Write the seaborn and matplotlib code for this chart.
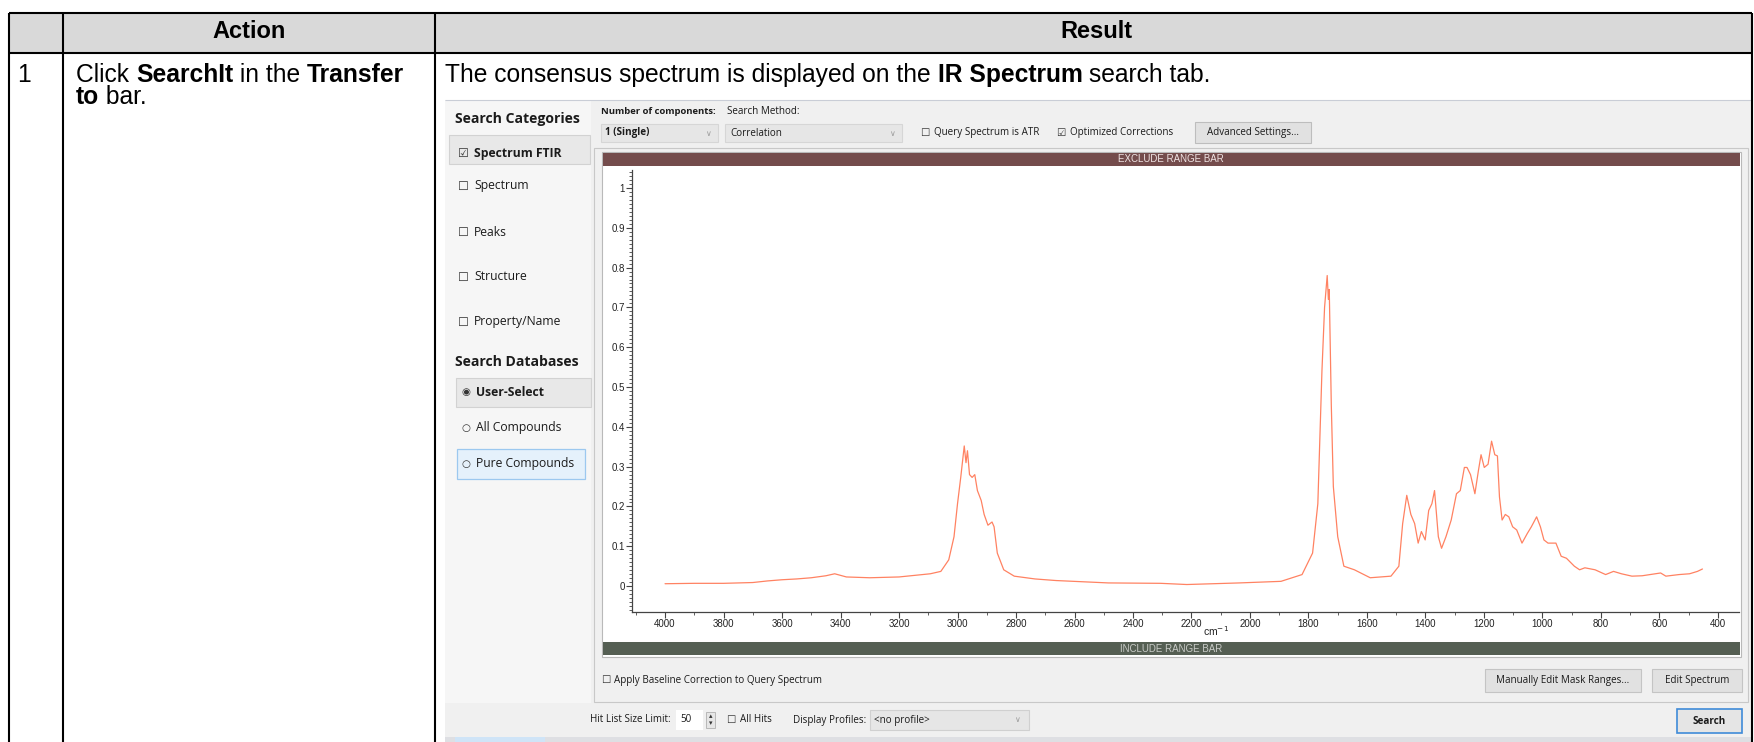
import numpy as np
import pandas as pd
import matplotlib
matplotlib.use("Agg")
import matplotlib.pyplot as plt
import seaborn as sns
from matplotlib.patches import Rectangle
from matplotlib.ticker import MultipleLocator

# ---------------- data ----------------
wavenumber = [4000, 3900, 3800, 3700, 3650, 3600, 3550, 3500, 3450, 3420, 3380, 3300, 3200,
              3093, 3057, 3030, 3012, 3000, 2989, 2977, 2971, 2966, 2959, 2950, 2941, 2932,
              2919, 2909, 2896, 2882, 2875, 2864, 2842, 2806, 2735, 2663, 2484, 2305, 2216,
              2037, 1894, 1822, 1786, 1768, 1754, 1745, 1736, 1732, 1729, 1722, 1715, 1700,
              1679, 1643, 1589, 1518, 1491, 1478, 1464, 1450, 1437, 1425, 1414, 1401, 1389,
              1378, 1369, 1356, 1345, 1330, 1312, 1294, 1281, 1267, 1258, 1246, 1231, 1219,
              1210, 1199, 1186, 1174, 1163, 1154, 1147, 1138, 1127, 1115, 1102, 1088, 1070,
              1052, 1038, 1020, 1007, 995, 981, 954, 936, 918, 891, 873, 855, 820, 784, 757,
              730, 694, 659, 596, 578, 533, 497, 470, 453]
absorbance = [0.006, 0.007, 0.007, 0.009, 0.013, 0.016, 0.018, 0.021, 0.026, 0.031, 0.023, 0.021, 0.023,
              0.031, 0.037, 0.066, 0.124, 0.207, 0.273, 0.352, 0.310, 0.340, 0.280, 0.273, 0.280, 0.240,
              0.215, 0.180, 0.153, 0.161, 0.149, 0.083, 0.041, 0.025, 0.018, 0.014, 0.008, 0.007, 0.004,
              0.008, 0.012, 0.029, 0.083, 0.207, 0.540, 0.700, 0.780, 0.720, 0.745, 0.455, 0.250, 0.124,
              0.050, 0.041, 0.021, 0.025, 0.050, 0.157, 0.228, 0.180, 0.157, 0.108, 0.137, 0.116, 0.190,
              0.207, 0.240, 0.124, 0.095, 0.124, 0.166, 0.232, 0.240, 0.298, 0.298, 0.280, 0.232, 0.290,
              0.330, 0.298, 0.306, 0.364, 0.330, 0.327, 0.224, 0.166, 0.180, 0.174, 0.149, 0.141, 0.108,
              0.132, 0.149, 0.174, 0.149, 0.116, 0.108, 0.108, 0.075, 0.070, 0.050, 0.041, 0.046, 0.041, 0.029, 0.037,
              0.031, 0.025, 0.026, 0.033, 0.025, 0.029, 0.031, 0.037, 0.043]

x_ticks = [4000, 3800, 3600, 3400, 3200, 3000, 2800, 2600, 2400, 2200, 2000,
           1800, 1600, 1400, 1200, 1000, 800, 600, 400]
x_tick_labels = ["4000", "3800", "3600", "3400", "3200", "3000", "2800", "2600", "2400", "2200", "2000",
                 "1800", "1600", "1400", "1200", "1000", "800", "600", "400"]
y_ticks = [0, 0.1, 0.2, 0.3, 0.4, 0.5, 0.6, 0.7, 0.8, 0.9, 1.0]
y_tick_labels = ["0", "0.1", "0.2", "0.3", "0.4", "0.5", "0.6", "0.7", "0.8", "0.9", "1"]

category_items = ["Spectrum FTIR", "Spectrum", "Peaks", "Structure", "Property/Name"]
database_items = ["User-Select", "All Compounds", "Pure Compounds"]

# ---------------- setup ----------------
sns.set_style("white")
DOC = ["Liberation Sans", "DejaVu Sans"]
UI = ["Open Sans", "DejaVu Sans"]
plt.rcParams["font.family"] = DOC

W, H = 1754, 742
fig = plt.figure(figsize=(W / 100, H / 100), dpi=100)
fig.patch.set_facecolor("white")
bg = fig.add_axes([0, 0, 1, 1])
bg.set_xlim(0, W)
bg.set_ylim(H, 0)
bg.axis("off")
renderer = fig.canvas.get_renderer()


def rect(x0, y0, x1, y1, fc, ec="none", lw=0.0, z=1):
    bg.add_patch(Rectangle((x0, y0), x1 - x0, y1 - y0, facecolor=fc, edgecolor=ec,
                           linewidth=lw, zorder=z))


def line(xs, ys, color="black", lw=1.0, z=3):
    bg.plot(xs, ys, color=color, linewidth=lw, zorder=z, solid_capstyle="butt")


def tw(s, size, weight, family):
    t = bg.text(0, 0, s + "|", fontsize=size, fontweight=weight, family=family)
    t2 = bg.text(0, 0, "|", fontsize=size, fontweight=weight, family=family)
    w = t.get_window_extent(renderer).width - t2.get_window_extent(renderer).width
    t.remove()
    t2.remove()
    return w


def fit(segs, target, family, ref=10.0):
    total = sum(tw(s, ref, w, family) for s, w in segs)
    return ref * target / total


def rich(x, y, segs, size, family, color="black", z=6):
    for s, wt in segs:
        bg.text(x, y, s, fontsize=size, fontweight=wt, family=family, color=color,
                va="center", ha="left", zorder=z)
        x += tw(s, size, wt, family)
    return x


def txt(x, y, s, size, family=UI, weight="normal", color="#1b1b1b", ha="left", z=6):
    bg.text(x, y, s, fontsize=size, fontweight=weight, family=family, color=color,
            va="center", ha=ha, zorder=z)


# ---------------- document table ----------------
rect(9, 13, 1752, 53, "#d9d9d9", z=0)
border = dict(color="black", lw=1.5, z=8)
line([9, 1752], [13, 13], **border)
line([9, 1752], [53, 53], **border)
for xv in [9, 63, 435, 1752]:
    line([xv, xv], [13, H], **border)

hdr_size = fit([("Action", "bold")], 73, DOC)
txt(249, 32, "Action", hdr_size, family=DOC, weight="bold", color="black", ha="center")
txt(1096, 32, "Result", hdr_size, family=DOC, weight="bold", color="black", ha="center")

result_segs = [("The consensus spectrum is displayed on the ", "normal"), ("IR Spectrum", "bold"),
               (" search tab.", "normal")]
doc_size = fit(result_segs, 768, DOC)
rich(445, 75, result_segs, doc_size, DOC)
txt(17, 75, "1", doc_size, family=DOC, color="black")
rich(76, 75, [("Click ", "normal"), ("SearchIt", "bold"), (" in the ", "normal"), ("Transfer", "bold")],
     doc_size, DOC)
rich(76, 97, [("to", "bold"), (" bar.", "normal")], doc_size, DOC)

# ---------------- software screenshot ----------------
UI_L, UI_R, UI_T = 445, 1751, 100
rect(UI_L, UI_T, UI_R, H, "#f0f0f0", z=1)
line([UI_L, UI_R], [UI_T, UI_T], color="#c9cdd6", lw=0.8, z=2)
rect(UI_L, UI_T + 1, 591, 703, "#f6f6f6", z=1.5)
rect(UI_L, 737, UI_R, H, "#dedfe3", z=2)
rect(455, 737, 545, H, "#cfe4f7", z=2.1)

s_left = fit([("Property/Name", "normal")], 87, UI)
s_left_b = fit([("Search Categories", "bold")], 125, UI)
s_small = fit([("Query Spectrum is ATR", "normal")], 106, UI)
s_small_b = fit([("Number of components:", "bold")], 115, UI)

# left panel
txt(455, 119, "Search Categories", s_left_b, weight="bold")
rect(449, 135, 590, 164, "#e8e8e8", ec="#d2d2d2", lw=0.8, z=2)
item_y = [153, 186, 232, 277, 322]
for i, (name, yy) in enumerate(zip(category_items, item_y)):
    box = "\u2611" if i == 0 else "\u2610"
    txt(458, yy, box, s_left * 1.0, color="#333333")
    txt(474, yy, name, s_left, weight="bold" if i == 0 else "normal")

txt(455, 362, "Search Databases", s_left_b, weight="bold")
rect(456, 378, 591, 407, "#e8e8e8", ec="#d2d2d2", lw=0.8, z=2)
rect(457, 449, 585, 479, "#e5f1fb", ec="#9cc8ef", lw=0.9, z=2)
db_y = [393, 428, 464]
for i, (name, yy) in enumerate(zip(database_items, db_y)):
    mark = "\u25c9" if i == 0 else "\u25cb"
    txt(461, yy, mark, s_left * 0.85, color="#333333")
    txt(476, yy, name, s_left, weight="bold" if i == 0 else "normal")

# top toolbar
txt(601, 111, "Number of components:", s_small_b, weight="bold")
txt(727, 111, "Search Method:", s_small)
rect(601, 124, 718, 142, "#e6e6e6", ec="#d6d6d6", lw=0.8, z=2)
txt(605, 133, "1 (Single)", s_small, weight="bold")
txt(709, 133, "\u2228", s_small * 0.8, family=["DejaVu Sans"], color="#9a9a9a", ha="center")
rect(725, 124, 902, 142, "#e6e6e6", ec="#d6d6d6", lw=0.8, z=2)
txt(730, 133, "Correlation", s_small)
txt(893, 133, "\u2228", s_small * 0.8, family=["DejaVu Sans"], color="#9a9a9a", ha="center")
txt(920, 133, "\u2610", s_small * 1.05, color="#333333")
txt(934, 133, "Query Spectrum is ATR", s_small)
txt(1056, 133, "\u2611", s_small * 1.05, color="#333333")
txt(1070, 133, "Optimized Corrections", s_small)
rect(1195, 122, 1311, 143, "#e1e1e1", ec="#bdbdbd", lw=0.8, z=2)
txt(1253, 132.5, "Advanced Settings...", s_small, ha="center")

# plot panel frame
rect(594, 148, 1748, 702, "#f0f0f0", ec="#c8c8c8", lw=0.8, z=2)
rect(602, 152, 1741, 657, "white", ec="#b9b9b9", lw=0.8, z=2.2)
rect(603, 153, 1740, 166, "#744c4c", z=2.5)
txt(1171, 159.5, "EXCLUDE RANGE BAR", 7.0, family=DOC, color="#efe3e3", ha="center")
rect(603, 642, 1740, 655, "#555f53", z=2.5)
txt(1171, 648.5, "INCLUDE RANGE BAR", 7.0, family=DOC, color="#c9ccc8", ha="center")

# below plot
txt(601, 680, "\u2610", s_small * 1.05, color="#333333")
txt(614, 680, "Apply Baseline Correction to Query Spectrum", s_small)
rect(1485, 669, 1641, 692, "#e1e1e1", ec="#c4c4c4", lw=0.8, z=2.5)
txt(1563, 680.5, "Manually Edit Mask Ranges...", s_small, ha="center")
rect(1652, 669, 1742, 692, "#e1e1e1", ec="#c4c4c4", lw=0.8, z=2.5)
txt(1697, 680.5, "Edit Spectrum", s_small, ha="center")

# bottom row
txt(590, 720, "Hit List Size Limit:", s_small)
rect(676, 710, 703, 730, "white", z=2.5)
txt(680, 720, "50", s_small)
rect(706, 712, 715, 728, "#e6e6e6", ec="#b0b0b0", lw=0.6, z=2.5)
txt(710.5, 716.5, "\u25b4", 5, family=["DejaVu Sans"], color="#333333", ha="center")
txt(710.5, 723.5, "\u25be", 5, family=["DejaVu Sans"], color="#333333", ha="center")
txt(726, 720, "\u2610", s_small * 1.05, color="#333333")
txt(740, 720, "All Hits", s_small)
txt(793, 720, "Display Profiles:", s_small)
rect(870, 710, 1029, 730, "#e6e6e6", ec="#d0d0d0", lw=0.8, z=2.5)
txt(874, 720, "<no profile>", s_small)
txt(1018, 720, "\u2228", s_small * 0.8, family=["DejaVu Sans"], color="#9a9a9a", ha="center")
rect(1677, 709, 1742, 733, "#e5e5e5", ec="#3f8bd8", lw=1.2, z=2.5)
txt(1709.5, 721, "Search", s_small, weight="bold", ha="center")

# ---------------- spectrum axes (seaborn) ----------------
AX_L, AX_R, AX_T, AX_B = 632, 1739, 170, 612
ax = fig.add_axes([AX_L / W, 1 - AX_B / H, (AX_R - AX_L) / W, (AX_B - AX_T) / H])
ax.set_zorder(5)
df = pd.DataFrame({"wavenumber": wavenumber, "absorbance": absorbance})
sns.lineplot(data=df, x="wavenumber", y="absorbance", ax=ax, color="#ff8262",
             linewidth=0.9, estimator=None, sort=False)
ax.set_facecolor("none")
ax.set_xlim(4113, 328)
ax.set_ylim(-0.065, 1.045)
for s in ["top", "right"]:
    ax.spines[s].set_visible(False)
for s in ["left", "bottom"]:
    ax.spines[s].set_color("#444444")
    ax.spines[s].set_linewidth(0.9)
ax.set_xticks(x_ticks)
ax.set_xticklabels(x_tick_labels)
ax.set_yticks(y_ticks)
ax.set_yticklabels(y_tick_labels)
ax.xaxis.set_minor_locator(MultipleLocator(100))
ax.yaxis.set_minor_locator(MultipleLocator(0.01))
ax.tick_params(which="both", bottom=True, left=True, top=False, right=False)
ax.tick_params(which="major", direction="out", length=4, width=0.8, color="#444444",
               labelcolor="#222222", labelsize=7, pad=1)
ax.tick_params(which="minor", direction="out", length=2.2, width=0.6, color="#444444")
for lab in ax.get_xticklabels() + ax.get_yticklabels():
    lab.set_family(DOC)
ax.set_ylabel("")
ax.set_xlabel("cm$^{-1}$", fontsize=7.5, color="#222222")
ax.xaxis.set_label_coords((1216 - AX_L) / (AX_R - AX_L), -(624 - AX_B) / (AX_B - AX_T))

fig.savefig("out.png", dpi=100)
